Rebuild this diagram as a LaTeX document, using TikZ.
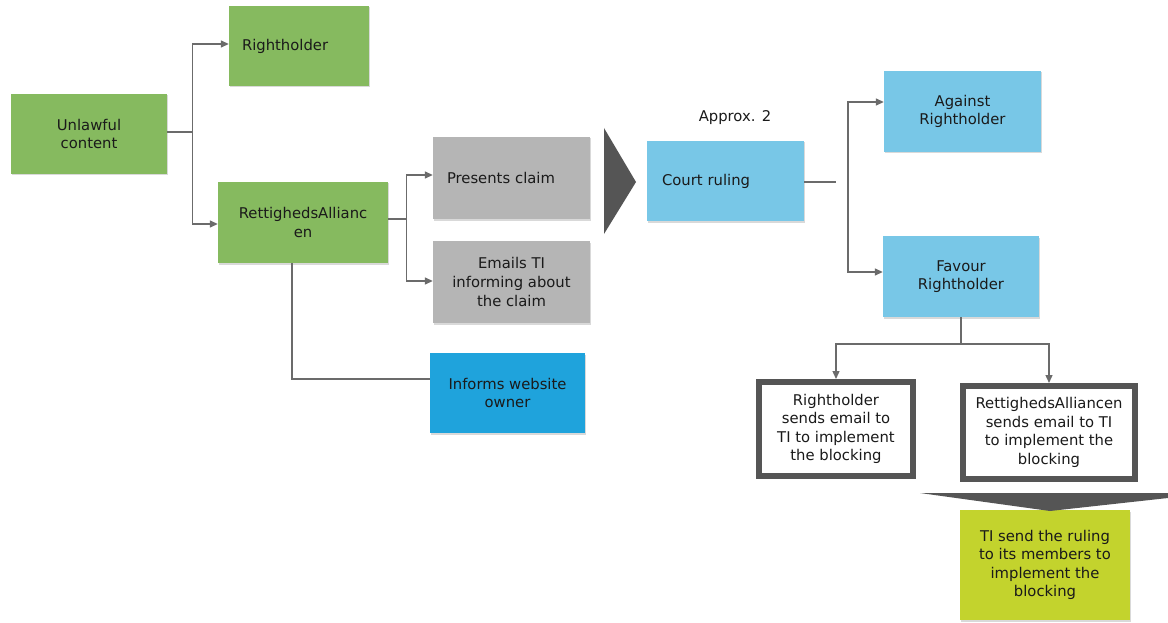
\documentclass[tikz,border=0pt]{standalone}
\usepackage{fontspec}
\setmainfont{DejaVu Sans}
\usetikzlibrary{arrows.meta,calc,shadows}
\definecolor{boxgreen}{HTML}{86BA5F}
\definecolor{boxgray}{HTML}{B5B5B5}
\definecolor{boxlblue}{HTML}{78C7E7}
\definecolor{boxblue}{HTML}{1FA3DC}
\definecolor{boxlime}{HTML}{C3D32D}
\definecolor{linegray}{HTML}{6B6B6B}
\definecolor{darkgray}{HTML}{555555}
\definecolor{txt}{HTML}{1A1A1A}
\begin{document}
\begin{tikzpicture}[x=1pt,y=-1pt,
  font=\fontsize{14.8}{18.6}\selectfont,
  box/.style={inner sep=0pt, text=txt, align=center,
    drop shadow={shadow xshift=1pt, shadow yshift=-1.5pt, opacity=0.15, fill=black}},
  conn/.style={draw=linegray, line width=1.4pt},
  arr/.style={conn, -{Triangle[length=8pt,width=7pt]}},
  framebox/.style={draw=darkgray, line width=6pt, fill=white, inner sep=0pt, text=txt, align=center}
]
\useasboundingbox (0,0) rectangle (1168,623);
\fill[white] (0,0) rectangle (1168,623);

% nodes
\node[box, fill=boxgreen, minimum width=156pt, minimum height=80pt] (unl) at (89,134) {Unlawful\\content};
\node[box, fill=boxgreen, minimum width=140pt, minimum height=80pt, text width=114pt, align=left] (rh) at (299,46) {Rightholder};
\node[box, fill=boxgreen, minimum width=170pt, minimum height=81pt] (ra) at (303,222.5) {RettighedsAllianc\\en};
\node[box, fill=boxgray, minimum width=157pt, minimum height=82pt, text width=129pt, align=left] (pc) at (511.5,178) {Presents claim};
\node[box, fill=boxgray, minimum width=157pt, minimum height=82pt] (em) at (511.5,282) {Emails TI\\informing about\\the claim};
\node[box, fill=boxblue, minimum width=155pt, minimum height=80pt] (inf) at (507.5,393) {Informs website\\owner};
\node[box, fill=boxlblue, minimum width=157pt, minimum height=80pt, text width=127pt, align=left] (court) at (725.5,181) {Court ruling};
\node[text=txt] (approx) at (735,118) {Approx. 2};
\node[box, fill=boxlblue, minimum width=157pt, minimum height=81pt] (ag) at (962.5,111.5) {Against\\Rightholder};
\node[box, fill=boxlblue, minimum width=156pt, minimum height=81pt] (fav) at (961,276.5) {Favour\\Rightholder};
\node[framebox, minimum width=154pt, minimum height=94pt] (rs) at (836,429) {Rightholder\\sends email to\\TI to implement\\the blocking};
\node[framebox, minimum width=172pt, minimum height=93pt] (rs2) at (1049,432.5) {RettighedsAlliancen\\sends email to TI\\to implement the\\blocking};
\node[box, fill=boxlime, minimum width=170pt, minimum height=110pt] (ti) at (1045,565) {TI send the ruling\\to its members to\\implement the\\blocking};

% big arrows
\fill[darkgray] (604,128) -- (636,182) -- (604,234) -- cycle;
\fill[darkgray] (920,493) -- (1168,493) -- (1168,498) -- (1050,511) -- cycle;

% connectors
\coordinate (s1) at ($(unl.east)+(25,-2)$);
\draw[conn] (unl.east |- s1) -- (s1);
\draw[arr] (s1) |- ($(rh.west)+(0,-2)$);
\draw[arr] (s1) |- ($(ra.west)+(0,1.5)$);

\coordinate (s2) at ($(ra.east)+(18,-3.5)$);
\draw[conn] (ra.east |- s2) -- (s2);
\draw[arr] (s2) |- ($(pc.west)+(0,-3)$);
\draw[arr] (s2) |- ($(em.west)+(0,-1)$);

\draw[conn] ($(ra.south)+(-11,0)$) |- ($(inf.west)+(0,-14)$);

\coordinate (c1) at ($(court.east)+(32,1)$);
\draw[conn] (court.east |- c1) -- (c1);
\coordinate (c2) at (848,186);
\draw[arr] (c2) |- ($(ag.west)+(0,-9.5)$);
\draw[arr] (c2) |- ($(fav.west)+(0,-4.5)$);

\coordinate (j) at (fav.south |- 0,344);
\draw[conn] (fav.south) -- (j);
\draw[arr] (j) -| (rs.north);
\draw[arr] (j) -| (rs2.north);
\end{tikzpicture}
\end{document}
